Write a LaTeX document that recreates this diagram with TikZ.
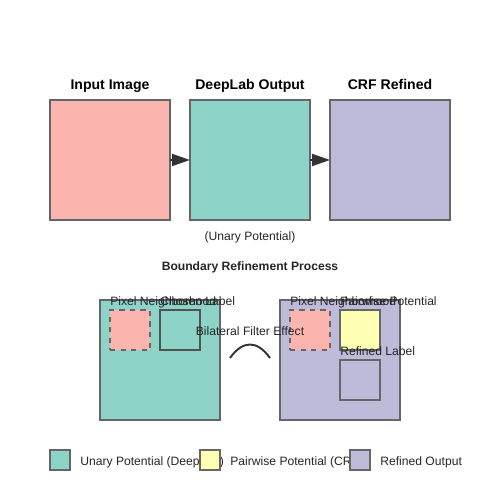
\documentclass[tikz,border=0pt]{standalone}
\usepackage{fontspec}
\setmainfont{Liberation Sans}
\usetikzlibrary{arrows.meta}
\definecolor{salmon}{HTML}{FBB4AE}
\definecolor{teal2}{HTML}{8DD3C7}
\definecolor{lav}{HTML}{BEBADA}
\definecolor{yel}{HTML}{FFFFB3}
\definecolor{edge}{HTML}{666666}
\definecolor{dark}{HTML}{333333}
\tikzset{
  box/.style={draw=edge, line width=0.6pt, anchor=north west, inner sep=0pt, outer sep=0pt},
  big/.style={box, minimum width=2.4cm, minimum height=2.4cm},
  small/.style={box, minimum width=0.8cm, minimum height=0.8cm},
  leg/.style={box, minimum width=0.4cm, minimum height=0.4cm},
  ttl/.style={anchor=base, font=\fontsize{8}{9.6}\selectfont\bfseries, text=black, inner sep=0pt},
  lbl/.style={anchor=base, font=\fontsize{6.9}{8}\selectfont, text=black!85, inner sep=0pt},
  lbll/.style={lbl, anchor=base west},
  arr/.style={draw=dark, line width=1.1pt, -{Triangle[length=0.36cm, width=0.24cm]}}
}
\begin{document}
\begin{tikzpicture}[x=0.02cm, y=-0.02cm]
\useasboundingbox[fill=white] (0,0) rectangle (500,500);
% top row
\node[big, fill=salmon] (inp) at (50,100) {};
\node[big, fill=teal2] (dl) at (190,100) {};
\node[big, fill=lav] (crf) at (330,100) {};
\node[ttl] (tinp) at (110,90) {Input Image};
\node[ttl] (tdl) at (250,90) {DeepLab Output};
\node[ttl] (tcrf) at (390,90) {CRF Refined};
\draw[arr] (inp.east) -- (dl.west);
\draw[arr] (dl.east) -- (crf.west);
\node[lbl] (unary) at (250,240) {(Unary Potential)};
\node[lbl, font=\fontsize{6.9}{8}\selectfont\bfseries] (brp) at (250,270) {Boundary Refinement Process};
% left process box
\node[big, fill=teal2] (lb) at (100,300) {};
\node[small, fill=salmon, dashed] (lpn) at (110,310) {};
\node[small, fill=teal2, draw=edge!80!black] (lcl) at (160,310) {};
\node[lbll] (tlpn) at (110,305) {Pixel Neighborhood};
\node[lbll] (tlcl) at (160,305) {Chosen Label};
% right process box
\node[big, fill=lav] (rb) at (280,300) {};
\node[small, fill=salmon, dashed] (rpn) at (290,310) {};
\node[small, fill=yel] (rpp) at (340,310) {};
\node[small] (rrl) at (340,360) {};
\node[lbll] (trpn) at (290,305) {Pixel Neighborhood};
\node[lbll] (trpp) at (340,305) {Pairwise Potential};
\node[lbll] (trrl) at (340,355) {Refined Label};
% curve
\coordinate (c1) at (230,358);
\coordinate (c2) at (270,358);
\draw[draw=dark, line width=1.1pt] (c1) .. controls (243,340) and (257,340) .. (c2);
\node[lbl] (bfe) at (250,335) {Bilateral Filter Effect};
% legend
\node[lbll] (tlg1) at (80,465) {Unary Potential (DeepLab)};
\node[leg, fill=teal2] (lg1) at (50,450) {};
\node[leg, fill=yel] (lg2) at (200,450) {};
\node[lbll] (tlg2) at (230,465) {Pairwise Potential (CRF)};
\node[leg, fill=lav] (lg3) at (350,450) {};
\node[lbll] (tlg3) at (380,465) {Refined Output};
\end{tikzpicture}
\end{document}
